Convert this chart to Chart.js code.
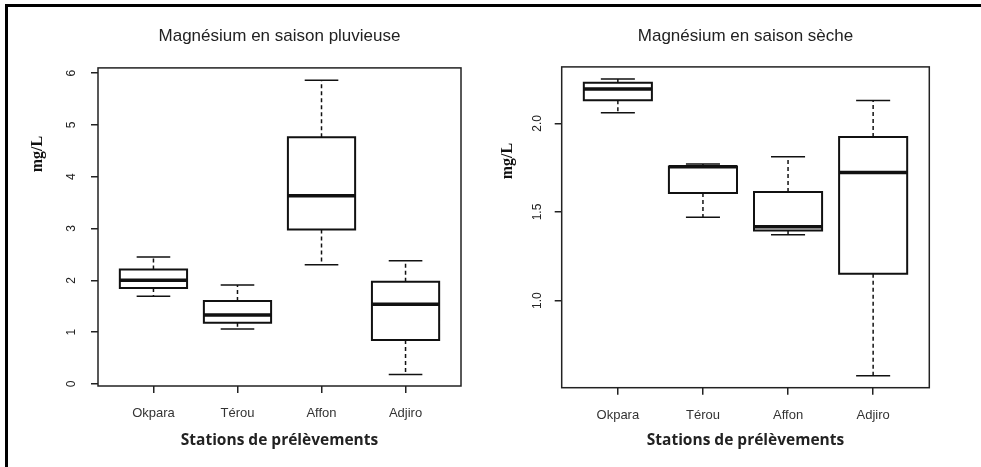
<!DOCTYPE html>
<html>
<head>
<meta charset="utf-8">
<script src="https://cdn.jsdelivr.net/npm/chart.js@4"></script>
<style>
  body { margin: 0; background: #fff; }
  #page { position: relative; width: 981px; height: 467px; overflow: hidden; }
  #frame { position: absolute; left: 5px; top: 4px; width: 990px; height: 480px;
           border-left: 3px solid #000; border-top: 3px solid #000; }
  .panel { position: absolute; top: 0; height: 467px; }
</style>
</head>
<body>
<div id="page">
  <div id="frame"></div>
  <div class="panel" style="left:0;width:490px"><canvas id="rainyChart"></canvas></div>
  <div class="panel" style="left:490px;width:491px"><canvas id="dryChart"></canvas></div>
</div>
<script>
// Stations (x categories)
const stations = ['Okpara', 'Térou', 'Affon', 'Adjiro'];

// Saison pluvieuse : min, Q1, médiane, Q3, max (mg/L)
const rainyMin = [1.69, 1.06, 2.30, 0.18];
const rainyQ1 = [1.85, 1.18, 2.98, 0.85];
const rainyMed = [2.00, 1.33, 3.63, 1.54];
const rainyQ3 = [2.21, 1.60, 4.76, 1.97];
const rainyMax = [2.45, 1.91, 5.86, 2.38];
const rainyTicks = [0, 1, 2, 3, 4, 5, 6];

// Saison sèche
const dryMin = [2.06, 1.47, 1.372, 0.576];
const dryQ1 = [2.13, 1.607, 1.395, 1.152];
const dryMed = [2.193, 1.755, 1.417, 1.722];
const dryQ3 = [2.228, 1.757, 1.612, 1.923];
const dryMax = [2.25, 1.771, 1.812, 2.129];
const dryTicks = [1.0, 1.5, 2.0];

const BOX_HALF = 0.4;
const CAP_HALF = 0.2;

// Build the line datasets that make up the box plots
function buildDatasets(mins, q1s, meds, q3s, maxs) {
    const boxes = [], medians = [], whiskers = [], caps = [];
    stations.forEach((s, i) => {
        const x = i + 1;
        boxes.push({x: x - BOX_HALF, y: q1s[i]}, {x: x + BOX_HALF, y: q1s[i]},
                   {x: x + BOX_HALF, y: q3s[i]}, {x: x - BOX_HALF, y: q3s[i]},
                   {x: x - BOX_HALF, y: q1s[i]}, {x: x, y: null});
        medians.push({x: x - BOX_HALF, y: meds[i]}, {x: x + BOX_HALF, y: meds[i]}, {x: x, y: null});
        whiskers.push({x: x, y: q3s[i]}, {x: x, y: maxs[i]}, {x: x, y: null},
                      {x: x, y: q1s[i]}, {x: x, y: mins[i]}, {x: x, y: null});
        caps.push({x: x - CAP_HALF, y: maxs[i]}, {x: x + CAP_HALF, y: maxs[i]}, {x: x, y: null},
                  {x: x - CAP_HALF, y: mins[i]}, {x: x + CAP_HALF, y: mins[i]}, {x: x, y: null});
    });
    const common = {showLine: true, pointRadius: 0, fill: false, spanGaps: false, borderColor: '#111'};
    return [
        {...common, data: whiskers, borderWidth: 1.5, borderDash: [4, 3]},
        {...common, data: boxes, borderWidth: 2, borderCapStyle: 'square'},
        {...common, data: medians, borderWidth: 3.5},
        {...common, data: caps, borderWidth: 1.5}
    ];
}

// Frame around plot area + rotated y label
const framePlugin = {
    id: 'rFrame',
    afterDatasetsDraw(chart, args, opts) {
        const {ctx, chartArea: a} = chart;
        ctx.save();
        ctx.strokeStyle = '#222';
        ctx.lineWidth = 1.5;
        ctx.strokeRect(a.left, a.top, a.right - a.left, a.bottom - a.top);
        ctx.translate(opts.labelX, opts.labelY);
        ctx.rotate(-Math.PI / 2);
        ctx.font = 'bold 16px "Liberation Serif", serif';
        ctx.fillStyle = '#111';
        ctx.textAlign = 'center';
        ctx.textBaseline = 'middle';
        ctx.fillText(opts.label, 0, 0);
        ctx.restore();
    }
};

function makeChart(id, cfg) {
    return new Chart(document.getElementById(id), {
        type: 'scatter',
        data: {datasets: buildDatasets(cfg.mins, cfg.q1s, cfg.meds, cfg.q3s, cfg.maxs)},
        plugins: [framePlugin],
        options: {
            animation: false,
            responsive: true,
            maintainAspectRatio: false,
            devicePixelRatio: 1,
            layout: {padding: {left: 0, right: cfg.padRight, top: 0, bottom: 0}},
            plugins: {
                legend: {display: false},
                tooltip: {enabled: false},
                title: {
                    display: true,
                    text: cfg.title,
                    fullSize: false,
                    color: '#222',
                    font: {family: '"Liberation Sans", Arial, sans-serif', size: 17, weight: 'normal'},
                    padding: {top: 26, bottom: cfg.titleBottom}
                },
                rFrame: {label: 'mg/L', labelX: cfg.labelX, labelY: cfg.labelY}
            },
            scales: {
                x: {
                    type: 'linear',
                    min: 0.34,
                    max: 4.66,
                    bounds: 'data',
                    afterBuildTicks: scale => { scale.ticks = stations.map((s, i) => ({value: i + 1})); },
                    afterFit: scale => { scale.height = cfg.xHeight; },
                    grid: {drawOnChartArea: false, drawTicks: true, tickLength: 7, color: '#222', lineWidth: 1.5},
                    border: {display: false},
                    ticks: {
                        callback: v => stations[Math.round(v) - 1],
                        maxRotation: 0,
                        autoSkip: false,
                        padding: 13,
                        color: '#333',
                        font: {family: '"Liberation Sans", Arial, sans-serif', size: 13}
                    },
                    title: {
                        display: true,
                        text: 'Stations de prélèvements',
                        color: '#222',
                        font: {family: '"Open Sans", sans-serif', size: 15.5, weight: 'bold'},
                        padding: {top: 0, bottom: 16.7}
                    }
                },
                y: {
                    min: cfg.yMin,
                    max: cfg.yMax,
                    bounds: 'data',
                    afterBuildTicks: scale => { scale.ticks = cfg.ticks.map(v => ({value: v})); },
                    afterFit: scale => { scale.width = cfg.yWidth; },
                    grid: {drawOnChartArea: false, drawTicks: true, tickLength: 7, color: '#222', lineWidth: 1.5},
                    border: {display: false},
                    ticks: {
                        callback: cfg.fmt,
                        minRotation: 90,
                        maxRotation: 90,
                        crossAlign: 'center',
                        autoSkip: false,
                        padding: cfg.tickPad,
                        color: '#222',
                        font: {family: '"Liberation Sans", Arial, sans-serif', size: 12}
                    }
                }
            }
        }
    });
}

makeChart('rainyChart', {
    title: 'Magnésium en saison pluvieuse',
    mins: rainyMin, q1s: rainyQ1, meds: rainyMed, q3s: rainyQ3, maxs: rainyMax,
    ticks: rainyTicks, fmt: v => String(v),
    yMin: -0.04, yMax: 6.1,
    yWidth: 98, padRight: 29, xHeight: 81, titleBottom: 21.5,
    tickPad: 16, labelX: 38, labelY: 154
});

makeChart('dryChart', {
    title: 'Magnésium en saison sèche',
    mins: dryMin, q1s: dryQ1, meds: dryMed, q3s: dryQ3, maxs: dryMax,
    ticks: dryTicks, fmt: v => v.toFixed(1),
    yMin: 0.509, yMax: 2.318,
    yWidth: 71.7, padRight: 51.7, xHeight: 79.3, titleBottom: 20.5,
    tickPad: 9, labelX: 18, labelY: 161
});
</script>
</body>
</html>
